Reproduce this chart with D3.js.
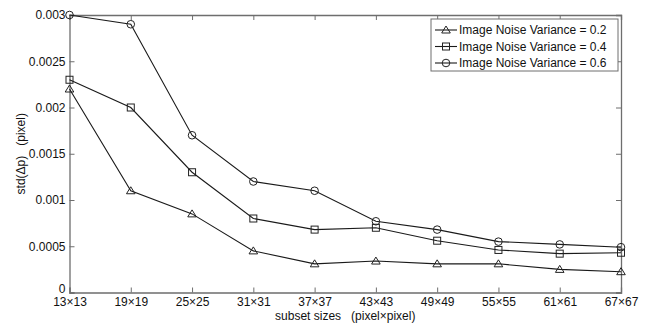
<!DOCTYPE html>
<html>
<head>
<meta charset="utf-8">
<script src="https://cdn.jsdelivr.net/npm/d3@7"></script>
<style>
  body { margin: 0; background: #fff; }
  text { font-family: "Liberation Sans", Arial, sans-serif; fill: #111; }
</style>
</head>
<body>
<div id="chart"></div>
<script>
const sizes = ["13x13", "19x19", "25x25", "31x31", "37x37", "43x43", "49x49", "55x55", "61x61", "67x67"];
const variance02 = [0.0022, 0.0011, 0.00085, 0.00045, 0.00031, 0.00034, 0.00031, 0.00031, 0.00025, 0.000225];
const variance04 = [0.0023, 0.002, 0.0013, 0.0008, 0.00068, 0.0007, 0.00056, 0.00046, 0.00042, 0.00043];
const variance06 = [0.003, 0.0029, 0.0017, 0.0012, 0.0011, 0.00077, 0.00068, 0.00055, 0.00052, 0.00049];
const yTicks = [0, 0.0005, 0.001, 0.0015, 0.002, 0.0025, 0.003];
const yTickLabels = ["0", "0.0005", "0.001", "0.0015", "0.002", "0.0025", "0.003"];
const seriesNames = ["Image Noise Variance = 0.2", "Image Noise Variance = 0.4", "Image Noise Variance = 0.6"];

const W = 649, H = 325;
const margin = { top: 15, right: 28, bottom: 32.5, left: 69.5 };
const width = W - margin.left - margin.right,
  height = H - margin.top - margin.bottom;

const svg = d3.select("#chart").append("svg")
  .attr("width", W).attr("height", H);

const graph = svg.append("g")
  .attr("transform", `translate(${margin.left}, ${margin.top})`);

const x = d3.scalePoint().domain(sizes).range([0, width]);
const y = d3.scaleLinear().domain([0, 0.003]).range([height, 0]);

const axisColor = "#6e6e6e";
const fmtSize = (d) => d.replace("x", "\u00d7");

// axes with inward ticks, box on all sides
const xAxisGroup = graph.append("g")
  .attr("transform", `translate(0, ${height})`)
  .call(d3.axisBottom(x).tickSize(-5).tickPadding(5).tickFormat(fmtSize));
const xTopGroup = graph.append("g")
  .call(d3.axisTop(x).tickSize(-5).tickFormat(""));
const yAxisGroup = graph.append("g")
  .call(d3.axisLeft(y).tickValues(yTicks).tickSize(-5).tickPadding(4)
    .tickFormat((d, i) => yTickLabels[i]));
const yRightGroup = graph.append("g")
  .attr("transform", `translate(${width}, 0)`)
  .call(d3.axisRight(y).tickValues(yTicks).tickSize(-5).tickFormat(""));

[xAxisGroup, xTopGroup, yAxisGroup, yRightGroup].forEach((g) => {
  g.select(".domain").attr("stroke", axisColor).attr("stroke-width", 1.3);
  g.selectAll(".tick line").attr("stroke", axisColor);
  g.selectAll("text").attr("font-size", "12px").attr("fill", "#111")
    .attr("font-family", "Liberation Sans, Arial, sans-serif");
});
// lift the "0" a little so it clears the first x label
yAxisGroup.selectAll(".tick text").filter((d) => d === 0).attr("y", -4);

const series = [
  { name: seriesNames[0], values: variance02, marker: "triangle" },
  { name: seriesNames[1], values: variance04, marker: "square" },
  { name: seriesNames[2], values: variance06, marker: "circle" },
];

const line = d3.line()
  .x((d, i) => x(sizes[i]))
  .y((d) => y(d));

function drawMarker(g, type, cx, cy) {
  if (type === "triangle") {
    g.append("path")
      .attr("d", `M${cx},${cy - 4} L${cx + 4.3},${cy + 3} L${cx - 4.3},${cy + 3} Z`)
      .attr("fill", "none").attr("stroke", "#222").attr("stroke-width", 1);
  } else if (type === "square") {
    g.append("rect")
      .attr("x", cx - 3.5).attr("y", cy - 3.5).attr("width", 7).attr("height", 7)
      .attr("fill", "none").attr("stroke", "#222").attr("stroke-width", 1);
  } else {
    g.append("circle")
      .attr("cx", cx).attr("cy", cy).attr("r", 3.8)
      .attr("fill", "none").attr("stroke", "#222").attr("stroke-width", 1);
  }
}

series.forEach((s) => {
  const g = graph.append("g").attr("class", "series");
  g.append("path")
    .datum(s.values)
    .attr("d", line)
    .attr("fill", "none")
    .attr("stroke", "#1a1a1a")
    .attr("stroke-width", 1.1);
  s.values.forEach((v, i) => drawMarker(g, s.marker, x(sizes[i]), y(v)));
});

// legend
const legend = svg.append("g").attr("transform", "translate(431, 19)");
legend.append("rect")
  .attr("width", 187).attr("height", 52)
  .attr("fill", "#fff").attr("stroke", axisColor).attr("stroke-width", 1);
series.forEach((s, i) => {
  const ly = 11 + i * 16.5;
  const row = legend.append("g");
  row.append("line")
    .attr("x1", 4).attr("x2", 26).attr("y1", ly).attr("y2", ly)
    .attr("stroke", "#1a1a1a").attr("stroke-width", 1.1);
  drawMarker(row, s.marker, 15, ly);
  row.append("text")
    .attr("x", 28).attr("y", ly).attr("dy", "0.35em")
    .attr("font-size", "12px")
    .text(s.name);
});

// axis labels
svg.append("text")
  .attr("x", margin.left + width / 2)
  .attr("y", 320)
  .attr("text-anchor", "middle")
  .attr("font-size", "12px")
  .attr("xml:space", "preserve")
  .text("subset sizes   (pixel\u00d7pixel)");

svg.append("text")
  .attr("transform", `translate(25, ${margin.top + height / 2}) rotate(-90)`)
  .attr("text-anchor", "middle")
  .attr("font-size", "12px")
  .attr("xml:space", "preserve")
  .text("std(\u0394p)   (pixel)");
</script>
</body>
</html>
